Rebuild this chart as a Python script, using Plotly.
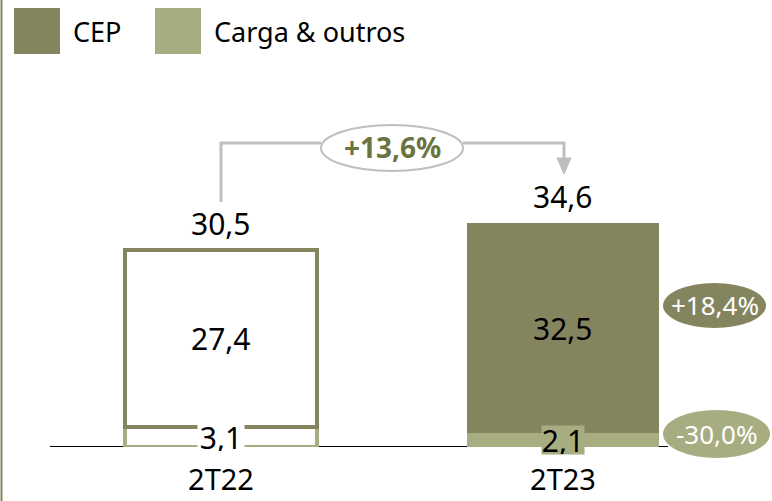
import plotly.graph_objects as go

# ---- data ----
categories = ["2T22", "2T23"]
cep = [27.4, 32.5]
carga = [3.1, 2.1]
totals = [30.5, 34.6]
growth_total = "+13,6%"
growth_cep = "+18,4%"
growth_carga = "-30,0%"
legend_names = ["CEP", "Carga & outros"]

DARK = "#84855F"
LIGHT = "#A7AD80"
GRAY = "#BFBFBF"
FONT = "Noto Sans"

W, H = 772, 501
MB = 54
PH = H - MB  # plot height in px


def fmt(v):
    return f"{v:.1f}".replace(".", ",")


def px(x):
    return x / W


def py(y):
    return (PH - y) / PH


fig = go.Figure()

fig.add_trace(go.Bar(
    x=categories, y=carga, name=legend_names[1],
    marker=dict(color=["white", LIGHT], line=dict(color=[LIGHT, LIGHT], width=[4, 0])),
    width=0.56, showlegend=False, hoverinfo="skip",
))
fig.add_trace(go.Bar(
    x=categories, y=cep, name=legend_names[0],
    marker=dict(color=["white", DARK], line=dict(color=[DARK, DARK], width=[4, 0])),
    width=0.56, showlegend=False, hoverinfo="skip",
))

shapes = []
annotations = []

# left border line
shapes.append(dict(type="line", xref="paper", yref="paper", x0=px(1.5), x1=px(1.5),
                   y0=py(0), y1=py(H), line=dict(color=DARK, width=2)))
# baseline
shapes.append(dict(type="line", xref="paper", yref="y", x0=px(50), x1=px(668),
                   y0=0, y1=0, line=dict(color="black", width=2), layer="below"))

# legend
leg_items = [(14, legend_names[0], DARK), (155, legend_names[1], LIGHT)]
for x0, name, col in leg_items:
    shapes.append(dict(type="rect", xref="paper", yref="paper", x0=px(x0), x1=px(x0 + 46),
                       y0=py(54), y1=py(8), fillcolor=col, line=dict(width=0)))
    annotations.append(dict(xref="paper", yref="paper", x=px(x0 + 57), y=py(31), text=name,
                            showarrow=False, xanchor="left", yanchor="middle",
                            font=dict(family=FONT, size=27, color="black")))

# segment and total labels
box_w = [46, 42]
for i, c in enumerate(categories):
    annotations.append(dict(x=c, y=totals[i], text=fmt(totals[i]), showarrow=False,
                            xanchor="center", yanchor="bottom", yshift=4,
                            font=dict(family=FONT, size=30, color="black")))
    annotations.append(dict(x=c, y=carga[i] + cep[i] / 2, text=fmt(cep[i]), showarrow=False,
                            xanchor="center", yanchor="middle",
                            font=dict(family=FONT, size=30, color="black")))
    annotations.append(dict(x=c, y=carga[i] / 2, text=fmt(carga[i]), showarrow=False,
                            xanchor="center", yanchor="middle", bgcolor=["white", LIGHT][i],
                            borderpad=0, width=box_w[i], height=28,
                            font=dict(family=FONT, size=30, color="black")))

# bracket with arrow
shapes.append(dict(type="path", xref="paper", yref="paper",
                   path=f"M {px(221)} {py(202)} L {px(221)} {py(143)} L {px(321)} {py(143)}",
                   line=dict(color=GRAY, width=3)))
shapes.append(dict(type="path", xref="paper", yref="paper",
                   path=f"M {px(463)} {py(143)} L {px(564)} {py(143)} L {px(564)} {py(160)}",
                   line=dict(color=GRAY, width=3)))
shapes.append(dict(type="path", xref="paper", yref="paper",
                   path=f"M {px(557)} {py(158)} L {px(571)} {py(158)} L {px(564)} {py(174)} Z",
                   fillcolor=GRAY, line=dict(color=GRAY, width=1)))

# ellipses
shapes.append(dict(type="circle", xref="paper", yref="paper", x0=px(321), x1=px(463),
                   y0=py(171), y1=py(125), fillcolor="white", line=dict(color=GRAY, width=2)))
annotations.append(dict(xref="paper", yref="paper", x=px(392), y=py(147),
                        text=f"<b>{growth_total}</b>", showarrow=False,
                        xanchor="center", yanchor="middle",
                        font=dict(family=FONT, size=28, color="#6B7341")))

shapes.append(dict(type="circle", xref="paper", yref="paper", x0=px(663), x1=px(766),
                   y0=py(328), y1=py(283), fillcolor=DARK, line=dict(width=0)))
annotations.append(dict(xref="paper", yref="paper", x=px(715), y=py(305), text=growth_cep,
                        showarrow=False, xanchor="center", yanchor="middle",
                        font=dict(family=FONT, size=26, color="white")))

shapes.append(dict(type="circle", xref="paper", yref="paper", x0=px(663), x1=px(770),
                   y0=py(458), y1=py(410), fillcolor=LIGHT, line=dict(width=0)))
annotations.append(dict(xref="paper", yref="paper", x=px(717), y=py(434), text=growth_carga,
                        showarrow=False, xanchor="center", yanchor="middle",
                        font=dict(family=FONT, size=26, color="white")))

fig.update_layout(
    width=W, height=H,
    margin=dict(l=0, r=0, t=0, b=MB, pad=0),
    barmode="stack",
    plot_bgcolor="white", paper_bgcolor="white",
    shapes=shapes, annotations=annotations,
    xaxis=dict(range=[-221 / 342, (W - 221) / 342], showgrid=False, zeroline=False,
               showline=False, ticks="", ticklabelstandoff=13, automargin=False,
               tickfont=dict(family=FONT, size=29, color="black"), fixedrange=True),
    yaxis=dict(range=[0, PH / 6.46], visible=False, fixedrange=True, automargin=False),
    showlegend=False,
)

fig.write_html("out.html", config={"displayModeBar": False},
               post_script="document.body.style.margin='0';document.body.style.overflow='hidden';")
